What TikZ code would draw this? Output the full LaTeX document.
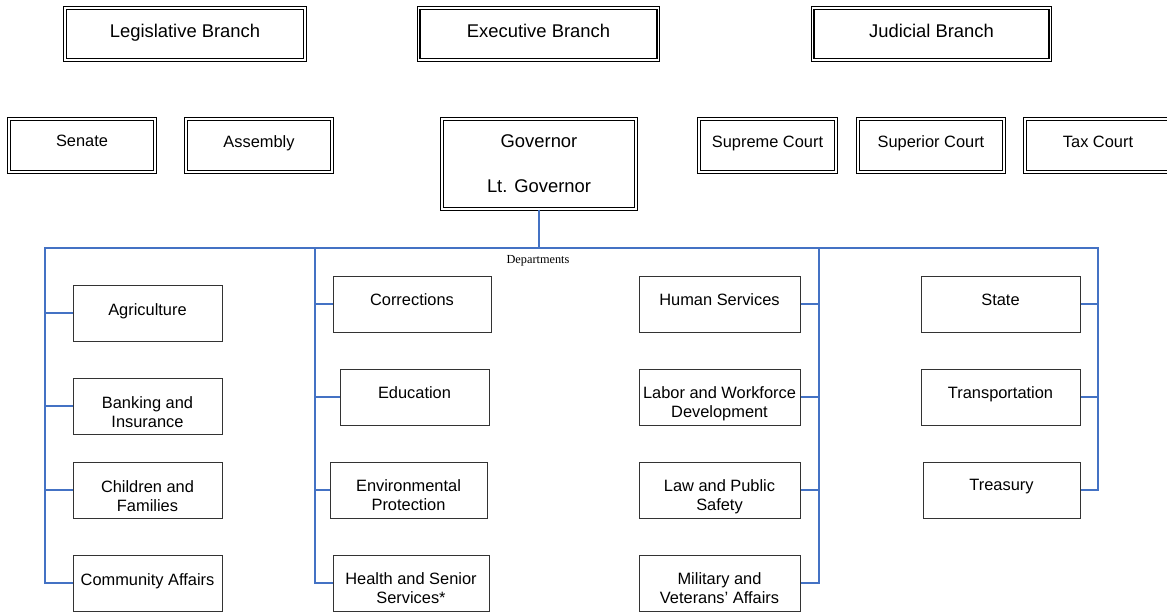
\documentclass[tikz,border=0pt]{standalone}
\usepackage{fontspec}
\setmainfont{Liberation Sans}
\newfontfamily\serifdep{Liberation Serif}
\usetikzlibrary{calc}
\definecolor{busblue}{HTML}{4472C4}
\begin{document}
\begin{tikzpicture}[x=1pt,y=-1pt,
  branch/.style={draw=black, double=white, line width=1.1pt, double distance=1.4pt, rectangle, inner sep=0pt, minimum height=52pt},
  smallbranch/.style={branch, minimum height=53pt, minimum width=146pt},
  dept/.style={draw=black!80, line width=1pt, rectangle, inner sep=0pt, minimum height=56pt},
  bigtxt/.style={anchor=north, inner sep=0pt, align=center, font=\fontsize{18.4}{44}\selectfont},
  txt/.style={anchor=north, inner sep=0pt, align=center, font=\fontsize{16.4}{19}\selectfont},
  bus/.style={draw=busblue, line width=1.6pt}]
\useasboundingbox (0,0) rectangle (1167,613);

% Branch boxes
\node[branch, minimum width=240pt] (leg) at (185,34) {};
\node[bigtxt] at ([yshift=-16.5pt]leg.north) {Legislative Branch};
\node[branch, minimum width=239.5pt] (exe) at (538.5,34) {};
\node[bigtxt] at ([yshift=-16.5pt]exe.north) {Executive Branch};
\node[branch, minimum width=237.5pt] (jud) at (931.5,34) {};
\node[bigtxt] at ([yshift=-16.5pt]jud.north) {Judicial Branch};

\node[smallbranch] (sen) at (82,145.5) {};
\node[txt] at ([yshift=-16.5pt]sen.north) {Senate};
\node[smallbranch] (asm) at (259,145.5) {};
\node[txt] at ([yshift=-16.5pt]asm.north) {Assembly};

\node[branch, minimum width=194pt, minimum height=90pt] (gov) at (539,164) {};
\node[bigtxt] at ([yshift=-16.5pt]gov.north) {Governor\\Lt. Governor};

\node[smallbranch, minimum width=137pt] (sup) at (767.5,145.5) {};
\node[txt] at ([yshift=-17pt]sup.north) {Supreme Court};
\node[smallbranch] (supr) at (931,145.5) {};
\node[txt] at ([yshift=-17pt]supr.north) {Superior Court};
\node[smallbranch] (tax) at (1098,145.5) {};
\node[txt] at ([yshift=-17pt]tax.north) {Tax Court};

% Departments label
\node[font=\serifdep\fontsize{12.3}{14}\selectfont, inner sep=0pt] (deplabel) at (538,261) {Departments};

% Column 1
\node[dept, minimum width=149pt] (agr) at (147.5,313) {};
\node[txt] at ([yshift=-18.5pt]agr.north) {Agriculture};
\node[dept, minimum width=149pt] (bank) at (147.5,406) {};
\node[txt] at ([yshift=-18.5pt]bank.north) {Banking and\\Insurance};
\node[dept, minimum width=149pt] (child) at (147.5,490) {};
\node[txt] at ([yshift=-18.5pt]child.north) {Children and\\Families};
\node[dept, minimum width=149pt] (comm) at (147.5,583) {};
\node[txt] at ([yshift=-18.5pt]comm.north) {Community Affairs};

% Column 2
\node[dept, minimum width=158pt] (corr) at (412,304) {};
\node[txt] at ([yshift=-18pt]corr.north) {Corrections};
\node[dept, minimum width=149pt] (edu) at (414.5,397) {};
\node[txt] at ([yshift=-18pt]edu.north) {Education};
\node[dept, minimum width=157pt] (env) at (408.5,490) {};
\node[txt] at ([yshift=-18pt]env.north) {Environmental\\Protection};
\node[dept, minimum width=156pt] (health) at (411,583) {};
\node[txt] at ([yshift=-18pt]health.north) {Health and Senior\\Services*};

% Column 3
\node[dept, minimum width=161pt] (hum) at (719.5,304) {};
\node[txt] at ([yshift=-18pt]hum.north) {Human Services};
\node[dept, minimum width=161pt] (labor) at (719.5,397) {};
\node[txt] at ([yshift=-18pt]labor.north) {Labor and Workforce\\Development};
\node[dept, minimum width=161pt] (law) at (719.5,490) {};
\node[txt] at ([yshift=-18pt]law.north) {Law and Public\\Safety};
\node[dept, minimum width=161pt] (mil) at (719.5,583) {};
\node[txt] at ([yshift=-18pt]mil.north) {Military and\\Veterans’ Affairs};

% Column 4
\node[dept, minimum width=159pt] (state) at (1000.5,304) {};
\node[txt] at ([yshift=-18pt]state.north) {State};
\node[dept, minimum width=159pt] (trans) at (1000.5,397) {};
\node[txt] at ([yshift=-18pt]trans.north) {Transportation};
\node[dept, minimum width=157pt] (treas) at (1001.5,490) {};
\node[txt] at ([yshift=-18pt]treas.north) {Treasury};

% Bus coordinates
\coordinate (busL) at (45,248);
\coordinate (busR) at (1098,248);
\coordinate (c2) at (315,248);
\coordinate (c3) at (819,248);

% Connectors
\draw[bus] (gov.south) -- (gov.south |- busL);
\draw[bus] (comm.west) -| (busL) -- (busR) |- (treas.east);
\draw[bus] (c2) |- (health.west);
\draw[bus] (c3) |- (mil.east);

\draw[bus] (agr.west) -- (agr.west -| busL);
\draw[bus] (bank.west) -- (bank.west -| busL);
\draw[bus] (child.west) -- (child.west -| busL);

\draw[bus] (corr.west) -- (corr.west -| c2);
\draw[bus] (edu.west) -- (edu.west -| c2);
\draw[bus] (env.west) -- (env.west -| c2);

\draw[bus] (hum.east) -- (hum.east -| c3);
\draw[bus] (labor.east) -- (labor.east -| c3);
\draw[bus] (law.east) -- (law.east -| c3);

\draw[bus] (state.east) -- (state.east -| busR);
\draw[bus] (trans.east) -- (trans.east -| busR);
\end{tikzpicture}
\end{document}
